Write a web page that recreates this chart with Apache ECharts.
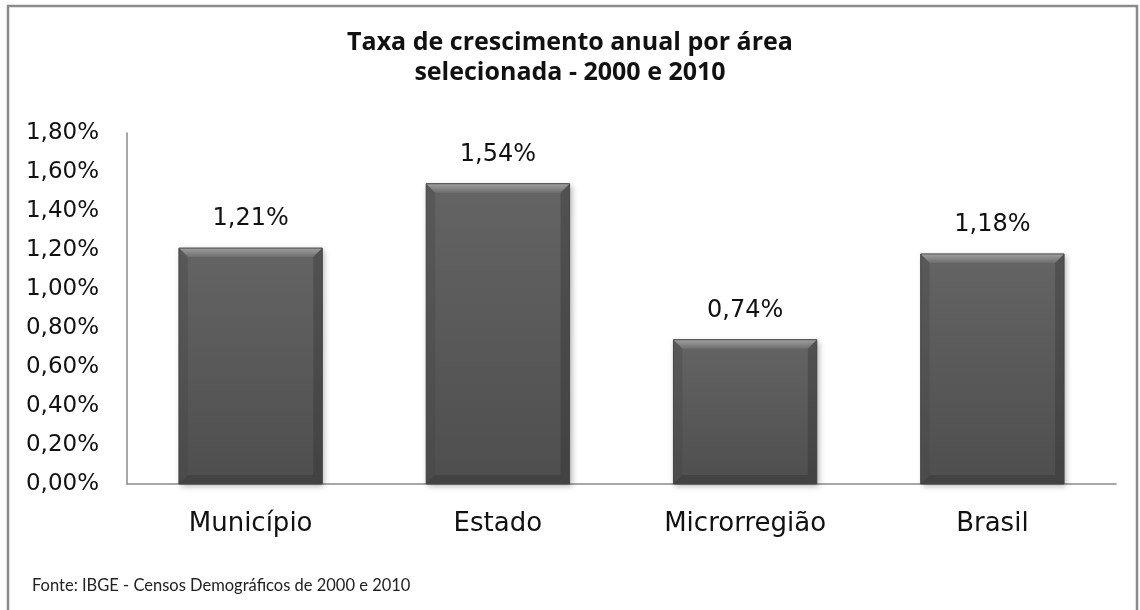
<!DOCTYPE html>
<html>
<head>
<meta charset="utf-8">
<script src="https://cdn.jsdelivr.net/npm/echarts@6/dist/echarts.min.js"></script>
<style>
  html, body { margin: 0; padding: 0; background: #ffffff; }
  #chart { width: 1140px; height: 610px; }
</style>
</head>
<body>
<div id="chart"></div>
<script>
// Annual growth rate by area, 2000–2010 census
const categories = ['Município', 'Estado', 'Microrregião', 'Brasil'];
const growthRates = [1.21, 1.54, 0.74, 1.18];
const titleLines = ['Taxa de crescimento anual por área', 'selecionada - 2000 e 2010'];
const sourceNote = 'Fonte: IBGE - Censos Demográficos de 2000 e 2010';

const pct = v => Number(v).toFixed(2).replace('.', ',') + '%';
const BAR_RATIO = 0.58;
const BEVEL = 9;

const chart = echarts.init(document.getElementById('chart'), null, { renderer: 'canvas' });

// Bevelled edges drawn over each bar
function renderBevel(params, api) {
  const idx = api.value(0);
  const val = api.value(1);
  const top = api.coord([idx, val]);
  const base = api.coord([idx, 0]);
  const w = api.size([1, 0])[0] * BAR_RATIO;
  const x0 = top[0] - w / 2, x1 = top[0] + w / 2;
  const y0 = top[1], y1 = base[1];
  const b = BEVEL;
  return {
    type: 'group',
    silent: true,
    children: [
      { type: 'polygon', shape: { points: [[x0, y0], [x1, y0], [x1 - b, y0 + b], [x0 + b, y0 + b]] },
        style: { fill: new echarts.graphic.LinearGradient(0, 0, 0, 1, [
          { offset: 0, color: '#a0a0a0' }, { offset: 1, color: '#6e6e6e' }]) } },
      { type: 'polygon', shape: { points: [[x0, y0], [x0 + b, y0 + b], [x0 + b, y1 - b], [x0, y1]] },
        style: { fill: 'rgba(70,70,70,0.35)' } },
      { type: 'polygon', shape: { points: [[x1, y0], [x1 - b, y0 + b], [x1 - b, y1 - b], [x1, y1]] },
        style: { fill: 'rgba(40,40,40,0.3)' } },
      { type: 'polygon', shape: { points: [[x0, y1], [x0 + b, y1 - b], [x1 - b, y1 - b], [x1, y1]] },
        style: { fill: 'rgba(30,30,30,0.25)' } },
      { type: 'rect', shape: { x: x0, y: y0, width: w, height: y1 - y0 },
        style: { fill: 'none', stroke: '#454545', lineWidth: 1 } }
    ]
  };
}

chart.setOption({
  animation: false,
  backgroundColor: '#ffffff',
  title: {
    text: titleLines.join('\n'),
    left: 'center',
    top: 23,
    textStyle: { fontFamily: 'Open Sans', fontWeight: 'bold', fontSize: 25, color: '#111', lineHeight: 30 }
  },
  graphic: [
    { type: 'rect', shape: { x: 8, y: 6, width: 1129, height: 620 },
      style: { fill: 'none', stroke: '#8a8a8a', lineWidth: 2.5 }, z: 100 },
    { type: 'text', left: 32, top: 577,
      style: { text: sourceNote, fontFamily: 'Lato', fontSize: 16.5, fill: '#222' } }
  ],
  grid: { left: 127, right: 24, top: 133, bottom: 126, containLabel: false },
  xAxis: {
    type: 'category',
    data: categories,
    axisLine: { show: true, lineStyle: { color: '#8a8a8a', width: 1.5 } },
    axisTick: { show: false },
    axisLabel: { margin: 27, fontFamily: 'DejaVu Sans', fontSize: 26, color: '#111' }
  },
  yAxis: {
    type: 'value',
    min: 0,
    max: 1.8,
    interval: 0.2,
    axisLine: { show: true, lineStyle: { color: '#8a8a8a', width: 1.5 } },
    axisTick: { show: false },
    splitLine: { show: false },
    axisLabel: { margin: 28, fontFamily: 'DejaVu Sans', fontSize: 23, color: '#111', formatter: pct }
  },
  series: [
    {
      type: 'bar',
      data: growthRates,
      barWidth: (BAR_RATIO * 100) + '%',
      itemStyle: {
        color: new echarts.graphic.LinearGradient(0, 0, 0, 1, [
          { offset: 0, color: '#646464' }, { offset: 1, color: '#4e4e4e' }]),
        shadowColor: 'rgba(0,0,0,0.3)',
        shadowBlur: 6,
        shadowOffsetX: 2,
        shadowOffsetY: 2
      },
      label: {
        show: true,
        position: 'top',
        distance: 17,
        fontFamily: 'DejaVu Sans',
        fontSize: 24,
        color: '#111',
        formatter: p => pct(p.value)
      }
    },
    {
      type: 'custom',
      renderItem: renderBevel,
      data: growthRates.map((v, i) => [i, v]),
      encode: { x: 0, y: 1 },
      z: 3
    }
  ]
});
</script>
</body>
</html>
